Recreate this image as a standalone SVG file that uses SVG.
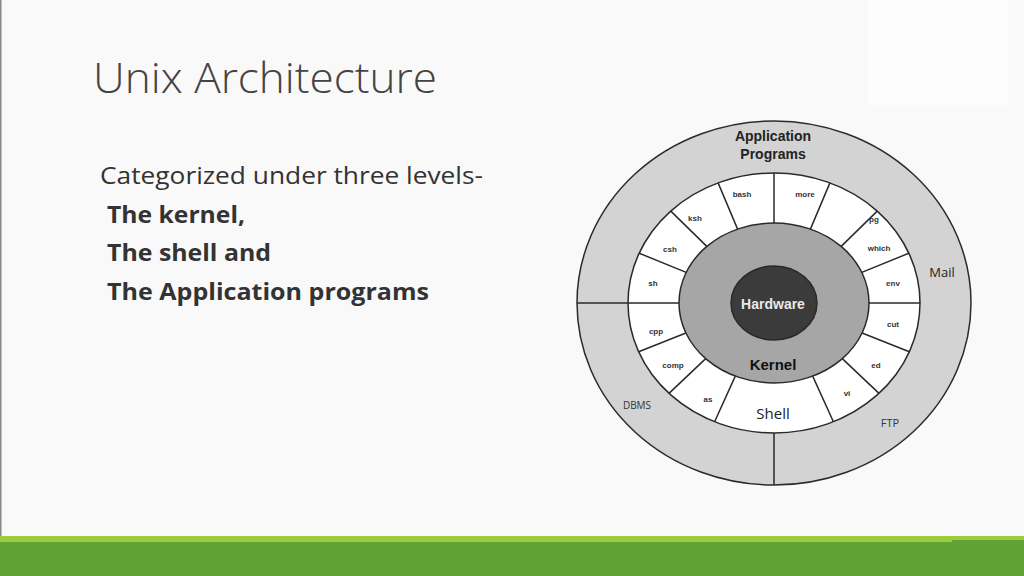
<svg xmlns="http://www.w3.org/2000/svg" width="1024" height="576" viewBox="0 0 1024 576">
<style>
.l{stroke:#2a2a2a;stroke-width:1.5;fill:none}
.s{font-family:"Liberation Sans",Arial,sans-serif;font-weight:bold;font-size:8px;fill:#333;text-anchor:middle}
.b{font-family:"Open Sans","Liberation Sans",sans-serif;font-size:23px;fill:#333}
</style>
<rect width="1024" height="576" fill="#f9f9f9"/>
<rect x="868" y="0" width="140" height="105" fill="#fdfdfd"/>
<rect x="0" y="0" width="1.5" height="540" fill="#888"/>
<rect x="0" y="536" width="1024" height="6" fill="#9ccb3e"/>
<rect x="0" y="542" width="1024" height="34" fill="#5fa334"/>
<rect x="952" y="540" width="72" height="4" fill="#5fa334"/>
<text x="93" y="93" font-family="'Open Sans','Liberation Sans',sans-serif" font-size="42" fill="#444" font-weight="300" textLength="344" lengthAdjust="spacingAndGlyphs">Unix Architecture</text>
<text x="100" y="184" class="b" textLength="383" lengthAdjust="spacingAndGlyphs">Categorized under three levels-</text>
<text x="107" y="223" class="b" font-weight="bold" textLength="138" lengthAdjust="spacingAndGlyphs">The kernel,</text>
<text x="107" y="261" class="b" font-weight="bold" textLength="164" lengthAdjust="spacingAndGlyphs">The shell and</text>
<text x="107" y="300" class="b" font-weight="bold" textLength="322" lengthAdjust="spacingAndGlyphs">The Application programs</text>
<g id="app"><ellipse cx="774" cy="303" rx="197" ry="182" fill="#d3d3d3" stroke="#2a2a2a" stroke-width="1.5"/></g>
<g id="shell"><ellipse cx="774" cy="303" rx="146" ry="130" fill="#fff" stroke="#2a2a2a" stroke-width="1.5"/></g>
<g id="kernel"><ellipse cx="774" cy="303" rx="95" ry="80" fill="#a6a6a6" stroke="#2a2a2a" stroke-width="1.5"/></g>
<g id="hardware"><ellipse cx="774" cy="303" rx="43" ry="37" fill="#3b3b3b" stroke="#2a2a2a" stroke-width="1.5"/></g>
<g id="connectors" class="l">
<path d="M869 303H920M861.8 272.4L908.9 253.2M841.2 246.4L877.2 211.1M810.4 229.1L829.9 182.9M774 223V173M737.6 229.1L718.1 182.9M706.8 246.4L670.8 211.1M686.2 272.4L639.1 253.2M679 303H628M862.1 333L909.3 351.8M842.3 358.6L879 393.4M812.7 376.1L833.4 421.8M685.9 333L638.7 351.8M705.7 358.6L669 393.4M735.3 376.1L714.6 421.8M577 303H628M774 433V485"/>
</g>
<g id="labels">
<text x="742" y="197" class="s">bash</text><text x="805" y="197" class="s">more</text>
<text x="695" y="221" class="s">ksh</text><text x="874" y="222" class="s">pg</text>
<text x="670" y="252" class="s">csh</text><text x="879" y="251" class="s">which</text>
<text x="653" y="286" class="s">sh</text><text x="893" y="286" class="s">env</text>
<text x="656" y="334" class="s">cpp</text><text x="893" y="327" class="s">cut</text>
<text x="673" y="368" class="s">comp</text><text x="876" y="368" class="s">ed</text>
<text x="708" y="402" class="s">as</text><text x="847" y="396" class="s">vi</text>
<text x="773" y="419" font-family="'Open Sans','Liberation Sans',sans-serif" font-size="15" fill="#222" text-anchor="middle">Shell</text>
<text x="773" y="370" font-family="'Liberation Sans',Arial,sans-serif" font-weight="bold" font-size="15" fill="#111" text-anchor="middle">Kernel</text>
<text x="773" y="309" font-family="'Liberation Sans',Arial,sans-serif" font-weight="bold" font-size="14" fill="#e8e8e8" text-anchor="middle">Hardware</text>
<text x="773" y="141" font-family="'Liberation Sans',Arial,sans-serif" font-weight="bold" font-size="14" fill="#222" text-anchor="middle">Application</text>
<text x="773" y="159" font-family="'Liberation Sans',Arial,sans-serif" font-weight="bold" font-size="14" fill="#222" text-anchor="middle">Programs</text>
<text x="942" y="277" font-family="'Open Sans','Liberation Sans',sans-serif" font-size="13" fill="#222" text-anchor="middle">Mail</text>
<text x="637" y="409" font-family="'Open Sans','Liberation Sans',sans-serif" font-size="10" fill="#333" text-anchor="middle">DBMS</text>
<text x="890" y="427" font-family="'Open Sans','Liberation Sans',sans-serif" font-size="11" fill="#333" text-anchor="middle">FTP</text>
</g>
</svg>
